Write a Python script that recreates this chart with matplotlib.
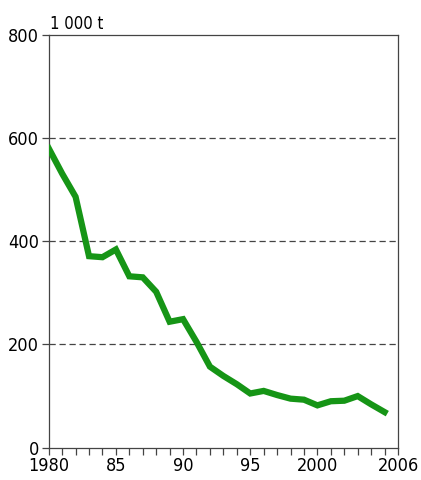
import matplotlib
matplotlib.use('Agg')
import matplotlib.pyplot as plt

plt.rcParams['font.family'] = ['DejaVu Sans']
plt.rcParams['font.stretch'] = 'condensed'

years = list(range(1980, 2006))
values = [580, 531, 486, 371, 369, 384, 332, 330, 302, 244, 249, 205, 157, 139, 123,
          105, 110, 102, 95, 93, 82, 90, 91, 100, 84, 69]
xtick_pos = [1980, 1985, 1990, 1995, 2000, 2006]
xtick_lab = ['1980', '85', '90', '95', '2000', '2006']
ytick_pos = [0, 200, 400, 600, 800]

fig = plt.figure(figsize=(4.21, 4.8), dpi=100)
ax = fig.add_axes([0.1157, 0.0673, 0.8297, 0.8604])

for y in [200, 400, 600]:
    ax.axhline(y, color='#444444', lw=0.9, ls=(0, (5, 3)), zorder=1)

ax.plot(years, values, color='#169516', lw=4.5, solid_joinstyle='miter', zorder=3)

ax.set_xlim(1980, 2006)
ax.set_ylim(0, 800)
ax.set_xticks(xtick_pos)
ax.set_xticklabels(xtick_lab)
ax.set_xticks(years, minor=True)
ax.set_yticks(ytick_pos)
ax.tick_params(axis='both', labelsize=13, color='#444444', width=0.9, length=5, pad=2)
ax.tick_params(axis='x', which='minor', length=5, width=0.9, color='#444444')
for s in ax.spines.values():
    s.set_color('#444444')
    s.set_linewidth(0.9)

ax.text(0.005, 1.005, '1 000 t', transform=ax.transAxes, fontsize=12, ha='left', va='bottom')

fig.savefig('out.png', dpi=100)
